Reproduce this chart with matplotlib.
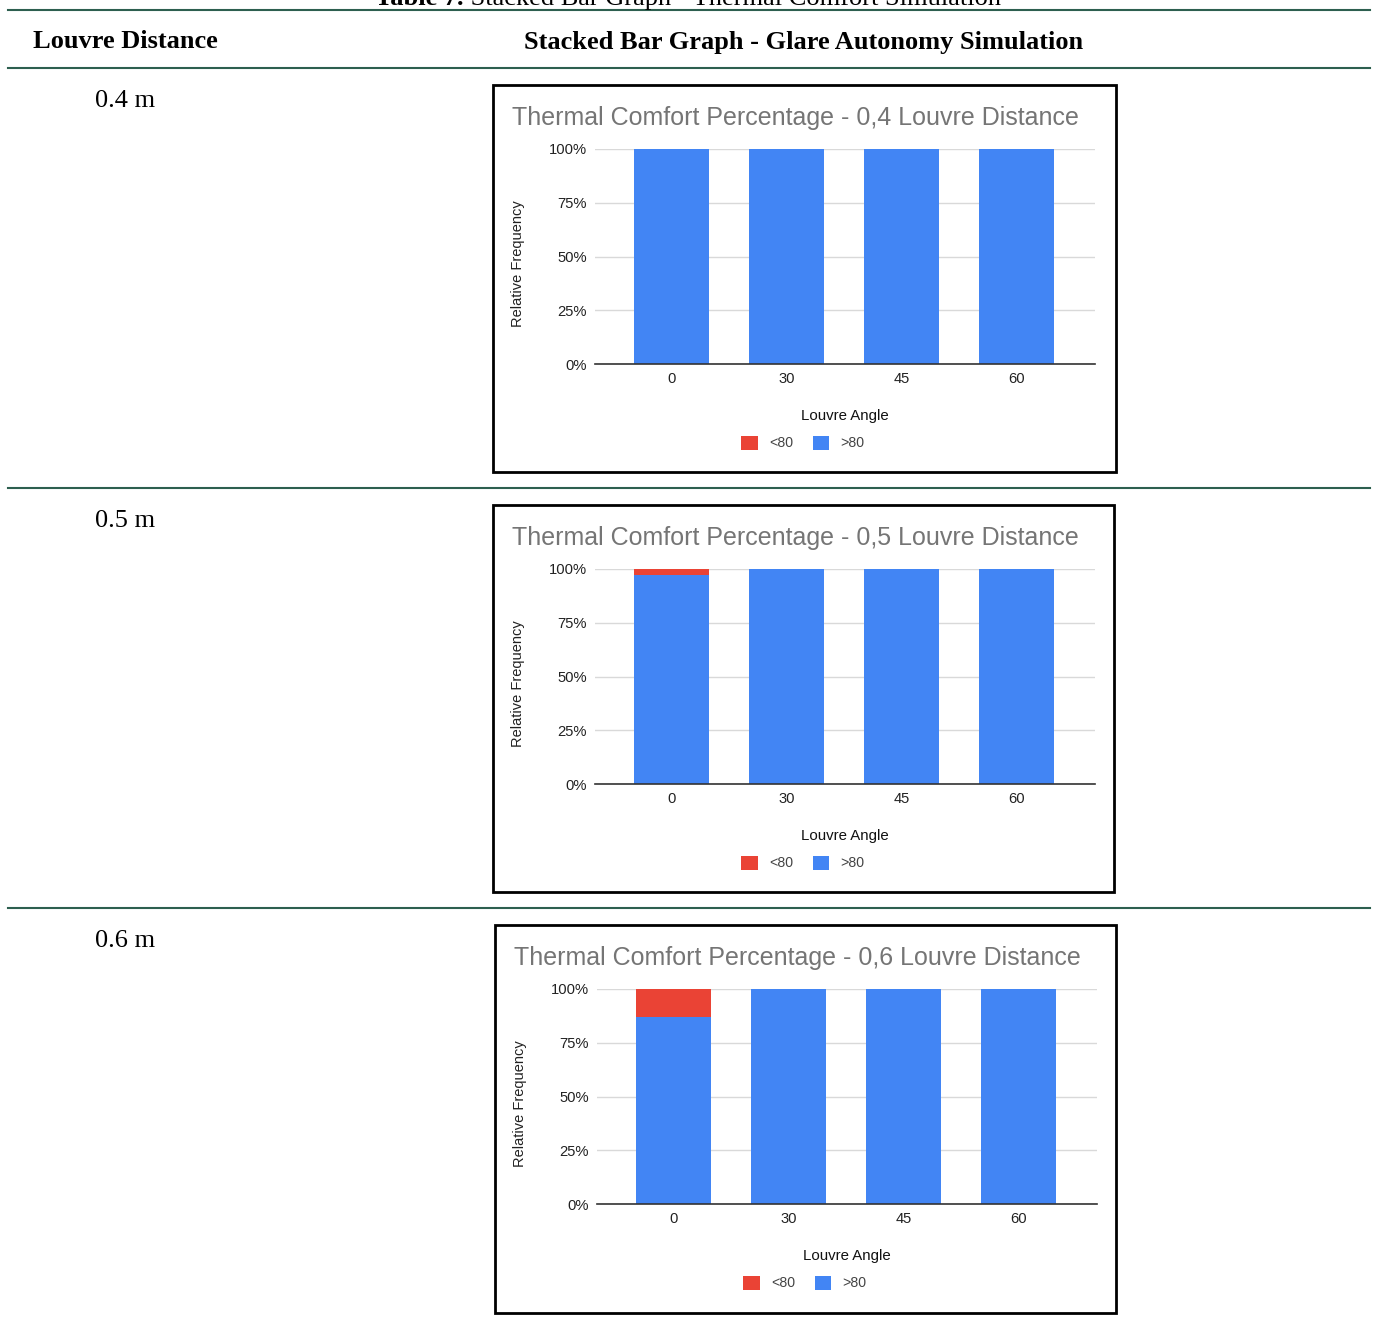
import matplotlib
matplotlib.use("Agg")
import matplotlib.pyplot as plt
from matplotlib.patches import Rectangle
from matplotlib.lines import Line2D

W, H = 1375, 1323
DPI = 100

# Data
angles = ["0", "30", "45", "60"]
distances = ["0.4 m", "0.5 m", "0.6 m"]
chart_titles = [
    "Thermal Comfort Percentage - 0,4 Louvre Distance",
    "Thermal Comfort Percentage - 0,5 Louvre Distance",
    "Thermal Comfort Percentage - 0,6 Louvre Distance",
]
above_80 = [
    [100, 100, 100, 100],
    [97, 100, 100, 100],
    [87, 100, 100, 100],
]
below_80 = [
    [0, 0, 0, 0],
    [3, 0, 0, 0],
    [13, 0, 0, 0],
]
y_ticks = [0, 25, 50, 75, 100]
y_tick_labels = ["0%", "25%", "50%", "75%", "100%"]
series_names = ["<80", ">80"]

RED = "#EA4335"
BLUE = "#4285F4"
GREEN = "#2d5f4f"
SERIF = "Liberation Serif"
SANS = "Liberation Sans"

fig = plt.figure(figsize=(W / DPI, H / DPI), dpi=DPI)


def fx(x):
    return x / W


def fy(y):
    return 1 - y / H


def hline(y):
    fig.add_artist(Line2D([fx(8), fx(1370)], [fy(y), fy(y)],
                          transform=fig.transFigure, color=GREEN, lw=1.5))


# Table caption (runs off the top of the page)
renderer = fig.canvas.get_renderer()
cap_bold = fig.text(fx(375), fy(5), "Table 7.", ha="left", va="baseline",
                    fontsize=19, family=SERIF, fontweight="bold")
bb = cap_bold.get_window_extent(renderer)
fig.text(bb.x1 / W, fy(5), " Stacked Bar Graph - Thermal Comfort Simulation",
         ha="left", va="baseline", fontsize=19, family=SERIF)

# Table rules
for y in (10, 68, 488, 908):
    hline(y)

# Header row
fig.text(fx(125), fy(42), "Louvre Distance", ha="center", va="center",
         fontsize=19, family=SERIF, fontweight="bold")
fig.text(fx(804), fy(42), "Stacked Bar Graph - Glare Autonomy Simulation",
         ha="center", va="center", fontsize=19, family=SERIF, fontweight="bold")

# Chart frames: (left, top, width, height) in pixels
boxes = [(493, 85, 623, 387), (493, 505, 621, 387), (495, 925, 621, 388)]
row_label_y = [101, 521, 941]

x = list(range(len(angles)))

for i, (bx, by, bw, bh) in enumerate(boxes):
    fig.text(fx(125), fy(row_label_y[i]), distances[i], ha="center",
             va="center", fontsize=19, family=SERIF)

    fig.add_artist(Rectangle((fx(bx), fy(by + bh)), bw / W, bh / H,
                             transform=fig.transFigure, fill=False,
                             ec="black", lw=2))

    fig.text(fx(bx + 19), fy(by + 33), chart_titles[i], ha="left",
             va="center", fontsize=18, color="#757575", family=SANS)

    ax = fig.add_axes([fx(bx + 102), fy(by + 279), 500 / W, 215 / H])
    b_hi = ax.bar(x, above_80[i], width=0.65, color=BLUE, zorder=2,
                  label=series_names[1])
    b_lo = ax.bar(x, below_80[i], width=0.65, bottom=above_80[i], color=RED,
                  zorder=2, label=series_names[0])
    ax.set_xlim(-0.665, 3.68)
    ax.set_ylim(0, 100)
    ax.set_yticks(y_ticks)
    ax.set_yticklabels(y_tick_labels)
    ax.set_xticks(x)
    ax.set_xticklabels(angles)
    ax.grid(axis="y", color="#d9d9d9", lw=1, zorder=0)
    ax.set_axisbelow(True)
    for s in ("top", "right", "left"):
        ax.spines[s].set_visible(False)
    ax.spines["bottom"].set_color("#333333")
    ax.spines["bottom"].set_linewidth(1.2)
    ax.spines["bottom"].set_zorder(3)
    ax.tick_params(axis="both", length=0, labelsize=10.6, labelcolor="#222222",
                   labelfontfamily=SANS)
    ax.tick_params(axis="x", pad=6)
    ax.tick_params(axis="y", pad=6)

    fig.text(fx(bx + 25), fy(by + 179), "Relative Frequency", rotation=90,
             ha="center", va="center", fontsize=10.5, color="#222222",
             family=SANS)
    fig.text(fx(bx + 352), fy(by + 331), "Louvre Angle", ha="center",
             va="center", fontsize=10.8, color="#111111", family=SANS)

    fig.legend(handles=[b_lo, b_hi], labels=series_names, loc="center",
               bbox_to_anchor=(fx(bx + 310), fy(by + 358)), ncol=2,
               frameon=False, handlelength=1.15,
               handleheight=1.15, handletextpad=0.8, columnspacing=1.4,
               labelcolor="#444444", prop={"family": SANS, "size": 10.2})

fig.savefig("out.png", dpi=DPI)
